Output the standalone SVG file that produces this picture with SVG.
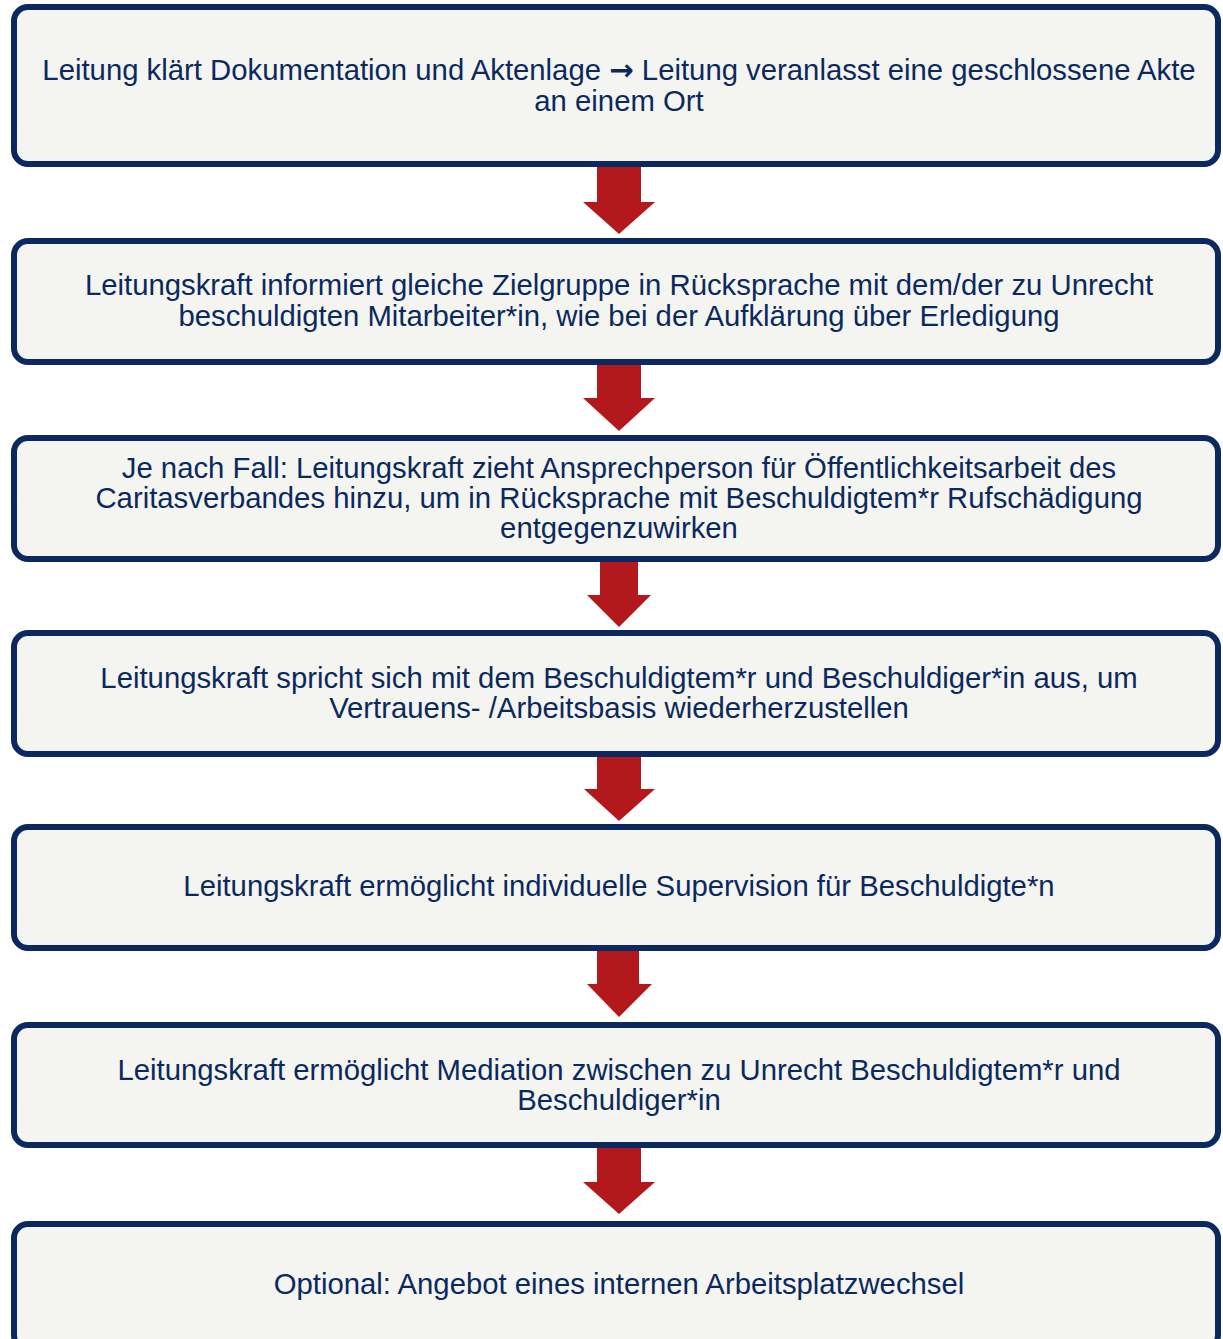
<svg xmlns="http://www.w3.org/2000/svg" width="1223" height="1339" viewBox="0 0 1223 1339">
<style>
.box{fill:#f4f5f0;stroke:#0b295e;stroke-width:6}
.t{font-family:"Liberation Sans",Arial,sans-serif;font-size:29.3px;fill:#0b295e;text-anchor:middle}
.sym{font-family:"DejaVu Sans",sans-serif;font-weight:bold}
.arr{fill:#b3191c}
</style>
<rect width="1223" height="1339" fill="#ffffff"/>
<g id="connectors">
<polygon class="arr" points="597,167 641,167 641,202 655,202 619,234 583,202 597,202"/>
<polygon class="arr" points="597,365 641,365 641,398 655,398 619,431 583,398 597,398"/>
<polygon class="arr" points="600,562 638,562 638,595 651,595 619,627 587,595 600,595"/>
<polygon class="arr" points="597,757 641,757 641,789 655,789 619,821 584,789 597,789"/>
<polygon class="arr" points="597,951 639,951 639,984 652,984 619,1017 587,984 597,984"/>
<polygon class="arr" points="597,1148 641,1148 641,1182 655,1182 619,1214 583,1182 597,1182"/>
</g>
<g id="n1"><rect class="box" x="14" y="7" width="1204" height="157" rx="14"/>
<text class="t" x="619" y="80">Leitung klärt Dokumentation und Aktenlage <tspan class="sym">→</tspan> Leitung veranlasst eine geschlossene Akte</text>
<text class="t" x="619" y="111">an einem Ort</text></g>
<g id="n2"><rect class="box" x="14" y="241" width="1204" height="121" rx="14"/>
<text class="t" x="619" y="295">Leitungskraft informiert gleiche Zielgruppe in Rücksprache mit dem/der zu Unrecht</text>
<text class="t" x="619" y="326">beschuldigten Mitarbeiter*in, wie bei der Aufklärung über Erledigung</text></g>
<g id="n3"><rect class="box" x="14" y="438" width="1204" height="121" rx="14"/>
<text class="t" x="619" y="478">Je nach Fall: Leitungskraft zieht Ansprechperson für Öffentlichkeitsarbeit des</text>
<text class="t" x="619" y="508">Caritasverbandes hinzu, um in Rücksprache mit Beschuldigtem*r Rufschädigung</text>
<text class="t" x="619" y="538">entgegenzuwirken</text></g>
<g id="n4"><rect class="box" x="14" y="633" width="1204" height="121" rx="14"/>
<text class="t" x="619" y="688">Leitungskraft spricht sich mit dem Beschuldigtem*r und Beschuldiger*in aus, um</text>
<text class="t" x="619" y="718">Vertrauens- /Arbeitsbasis wiederherzustellen</text></g>
<g id="n5"><rect class="box" x="14" y="827" width="1204" height="121" rx="14"/>
<text class="t" x="619" y="896">Leitungskraft ermöglicht individuelle Supervision für Beschuldigte*n</text></g>
<g id="n6"><rect class="box" x="14" y="1025" width="1204" height="120" rx="14"/>
<text class="t" x="619" y="1080">Leitungskraft ermöglicht Mediation zwischen zu Unrecht Beschuldigtem*r und</text>
<text class="t" x="619" y="1110">Beschuldiger*in</text></g>
<g id="n7"><rect class="box" x="14" y="1224" width="1204" height="125" rx="14"/>
<text class="t" x="619" y="1294">Optional: Angebot eines internen Arbeitsplatzwechsel</text></g>
</svg>
